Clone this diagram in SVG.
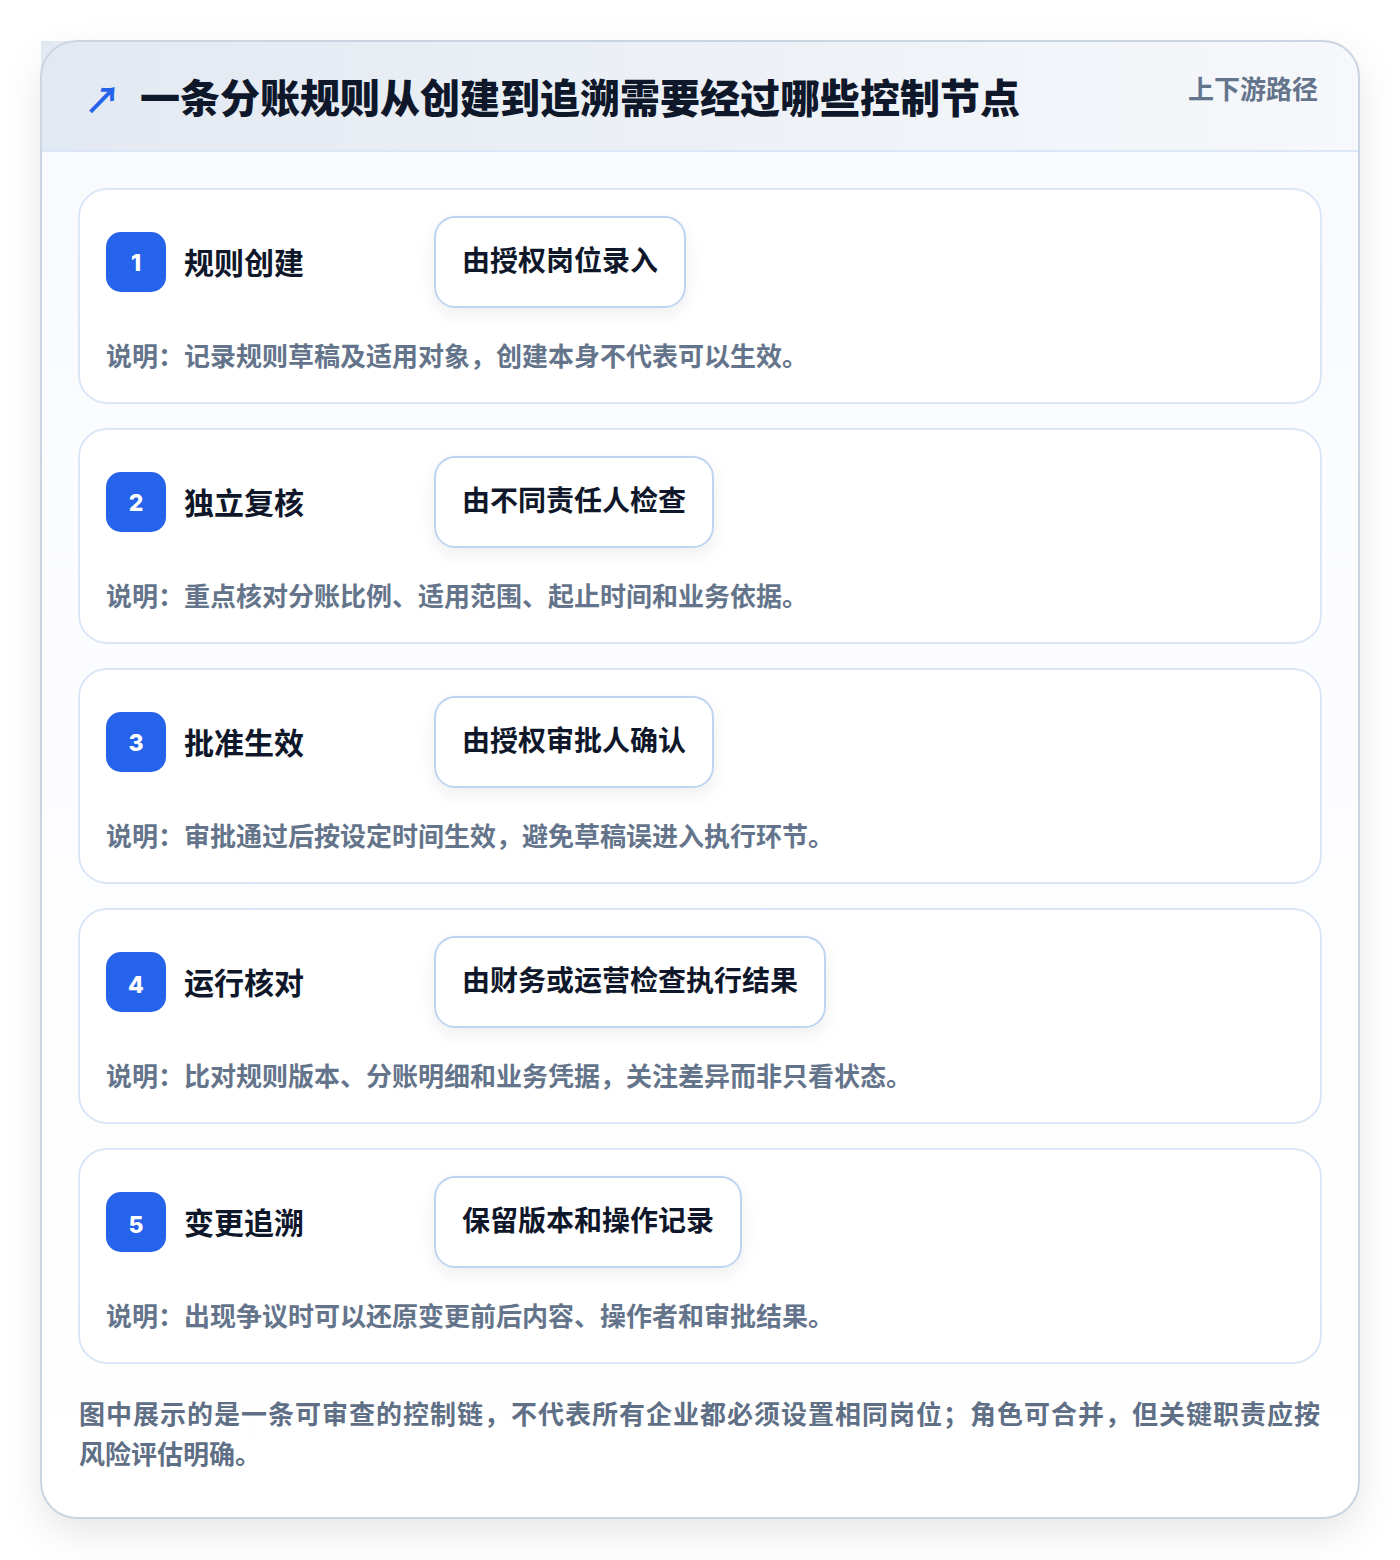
<svg xmlns="http://www.w3.org/2000/svg" width="1400" height="1560" viewBox="0 0 1400 1560">
<defs>
<linearGradient id="hdr" x1="0" y1="0" x2="1" y2="0">
<stop offset="0" stop-color="#e3e9f2"/>
<stop offset="1" stop-color="#f6f8fb"/>
</linearGradient>
<linearGradient id="body" x1="0" y1="0" x2="0" y2="1">
<stop offset="0" stop-color="#f7f9fc"/>
<stop offset="0.3" stop-color="#fbfcfe"/>
<stop offset="1" stop-color="#ffffff"/>
</linearGradient>
<filter id="cardShadow" x="-10%" y="-10%" width="120%" height="120%">
<feGaussianBlur in="SourceAlpha" stdDeviation="18"/>
<feOffset dy="14" result="b"/>
<feFlood flood-color="#0f172a" flood-opacity="0.10"/>
<feComposite in2="b" operator="in"/>
<feMerge><feMergeNode/><feMergeNode in="SourceGraphic"/></feMerge>
</filter>
<filter id="pillShadow" x="-20%" y="-40%" width="140%" height="180%">
<feGaussianBlur in="SourceAlpha" stdDeviation="8"/>
<feOffset dy="6" result="b"/>
<feFlood flood-color="#0f172a" flood-opacity="0.07"/>
<feComposite in2="b" operator="in"/>
<feMerge><feMergeNode/><feMergeNode in="SourceGraphic"/></feMerge>
</filter>
</defs>
<style>
text { font-family: "Noto Sans CJK SC", "Noto Sans", sans-serif; }
.step { fill: #ffffff; stroke: #dbe7f6; stroke-width: 2; }
.badge { fill: #2563eb; }
.num { fill: #ffffff; font-size: 23px; font-weight: 800; font-family: "Inter", "Noto Sans", sans-serif; }
.ttl { fill: #0f172a; font-size: 30px; font-weight: 700; }
.pill { fill: #ffffff; stroke: #bed5f1; stroke-width: 2; }
.ptxt { fill: #0f172a; font-size: 28px; font-weight: 700; }
.desc { fill: #64748b; font-size: 26px; font-weight: 700; }
.foot { fill: #5f6f86; font-size: 26px; font-weight: 700; }
</style>
<rect x="0" y="0" width="1400" height="1560" fill="#ffffff"/>
<g id="card">
<rect x="41" y="41" width="1318" height="1477" rx="36" fill="url(#body)" filter="url(#cardShadow)"/>
<path d="M41 41 H1323 A36 36 0 0 1 1359 77 V151 H41 Z" fill="url(#hdr)"/>
<line x1="41" y1="151" x2="1359" y2="151" stroke="#dbe7f6" stroke-width="2"/>
<rect x="41" y="41" width="1318" height="1477" rx="36" fill="none" stroke="#cbd5e1" stroke-width="2"/>
</g>
<g id="header">
<text x="84" y="114" font-size="37" fill="#2563eb" font-family="DejaVu Sans, sans-serif" font-weight="700">↗</text>
<text x="140" y="113" font-size="40" font-weight="800" fill="#0f172a">一条分账规则从创建到追溯需要经过哪些控制节点</text>
<text x="1318" y="99" font-size="26" font-weight="700" fill="#64748b" text-anchor="end">上下游路径</text>
</g>
<g id="step1">
<rect class="step" x="79" y="189" width="1242" height="214" rx="28"/>
<rect class="badge" x="106" y="232" width="60" height="60" rx="15"/>
<text class="num" x="136" y="271" text-anchor="middle">1</text>
<text class="ttl" x="184" y="274">规则创建</text>
<rect class="pill" x="435" y="217" width="250" height="90" rx="20" filter="url(#pillShadow)"/>
<text class="ptxt" x="462" y="271">由授权岗位录入</text>
<text class="desc" x="106" y="366">说明：记录规则草稿及适用对象，创建本身不代表可以生效。</text>
</g>
<g id="step2">
<rect class="step" x="79" y="429" width="1242" height="214" rx="28"/>
<rect class="badge" x="106" y="472" width="60" height="60" rx="15"/>
<text class="num" x="136" y="511" text-anchor="middle">2</text>
<text class="ttl" x="184" y="514">独立复核</text>
<rect class="pill" x="435" y="457" width="278" height="90" rx="20" filter="url(#pillShadow)"/>
<text class="ptxt" x="462" y="511">由不同责任人检查</text>
<text class="desc" x="106" y="606">说明：重点核对分账比例、适用范围、起止时间和业务依据。</text>
</g>
<g id="step3">
<rect class="step" x="79" y="669" width="1242" height="214" rx="28"/>
<rect class="badge" x="106" y="712" width="60" height="60" rx="15"/>
<text class="num" x="136" y="751" text-anchor="middle">3</text>
<text class="ttl" x="184" y="754">批准生效</text>
<rect class="pill" x="435" y="697" width="278" height="90" rx="20" filter="url(#pillShadow)"/>
<text class="ptxt" x="462" y="751">由授权审批人确认</text>
<text class="desc" x="106" y="846">说明：审批通过后按设定时间生效，避免草稿误进入执行环节。</text>
</g>
<g id="step4">
<rect class="step" x="79" y="909" width="1242" height="214" rx="28"/>
<rect class="badge" x="106" y="952" width="60" height="60" rx="15"/>
<text class="num" x="136" y="993" text-anchor="middle">4</text>
<text class="ttl" x="184" y="994">运行核对</text>
<rect class="pill" x="435" y="937" width="390" height="90" rx="20" filter="url(#pillShadow)"/>
<text class="ptxt" x="462" y="991">由财务或运营检查执行结果</text>
<text class="desc" x="106" y="1086">说明：比对规则版本、分账明细和业务凭据，关注差异而非只看状态。</text>
</g>
<g id="step5">
<rect class="step" x="79" y="1149" width="1242" height="214" rx="28"/>
<rect class="badge" x="106" y="1192" width="60" height="60" rx="15"/>
<text class="num" x="136" y="1233" text-anchor="middle">5</text>
<text class="ttl" x="184" y="1234">变更追溯</text>
<rect class="pill" x="435" y="1177" width="306" height="90" rx="20" filter="url(#pillShadow)"/>
<text class="ptxt" x="462" y="1231">保留版本和操作记录</text>
<text class="desc" x="106" y="1326">说明：出现争议时可以还原变更前后内容、操作者和审批结果。</text>
</g>
<g id="connectors"></g>
<g id="footer">
<text class="foot" x="79" y="1424" textLength="1241" lengthAdjust="spacing">图中展示的是一条可审查的控制链，不代表所有企业都必须设置相同岗位；角色可合并，但关键职责应按</text>
<text class="foot" x="79" y="1464">风险评估明确。</text>
</g>
</svg>
